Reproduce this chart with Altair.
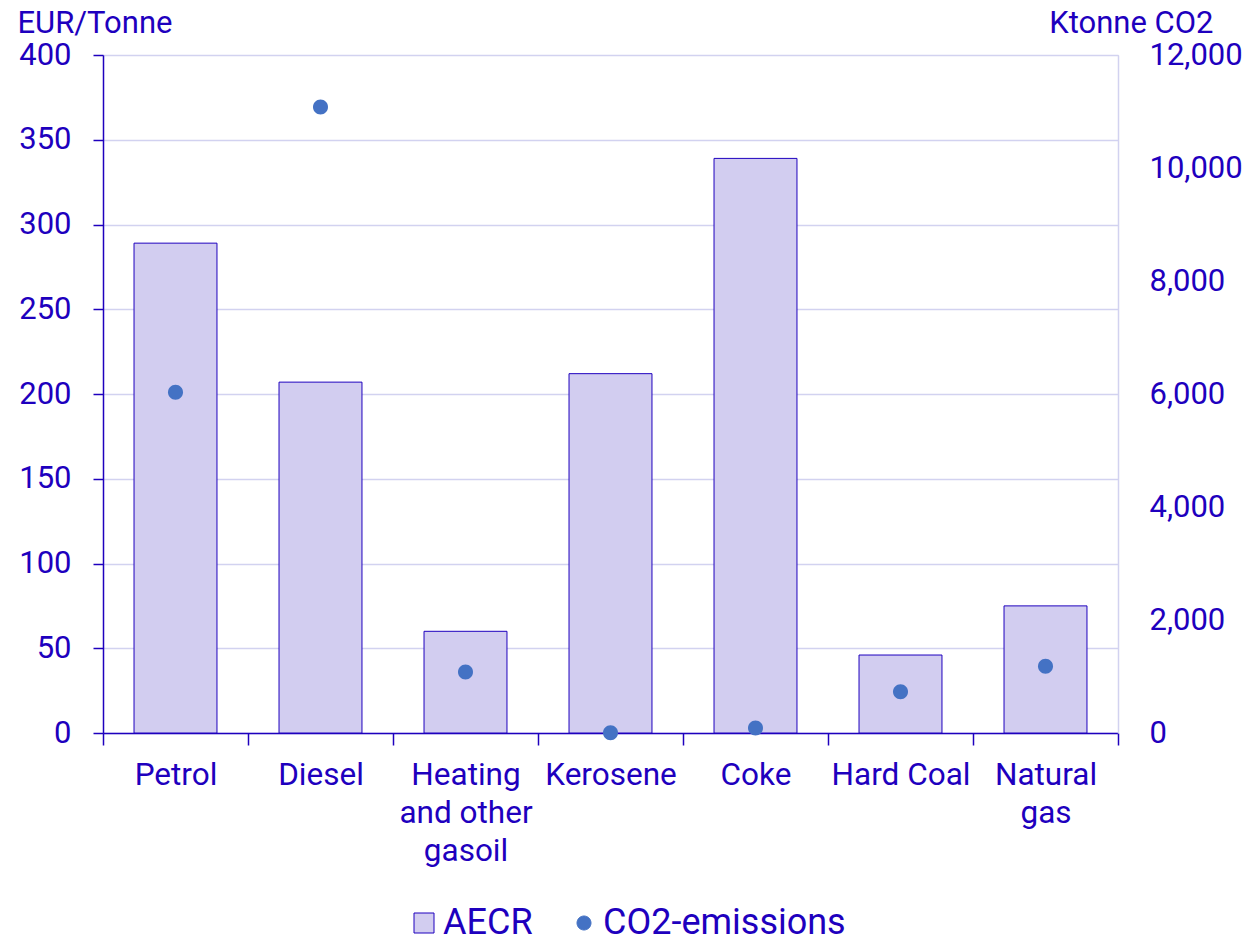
import altair as alt
import pandas as pd

categories = ["Petrol", "Diesel", "Heating and other gasoil", "Kerosene", "Coke", "Hard Coal", "Natural gas"]
aecr = [289, 207, 60, 212, 339, 46, 75]
co2 = [6030, 11080, 1080, 5, 90, 730, 1180]
series_names = ["AECR", "CO2-emissions"]

TXT = "#1E00BE"
BAR = "#D2CDF0"
DOT = "#4472C4"
GRID = "#D2D2F0"
FONT = "Roboto"

df = pd.DataFrame({"cat": categories, "aecr": aecr, "co2": co2})

circle_path = "M -0.7 0 A 0.7 0.7 0 1 1 0.7 0 A 0.7 0.7 0 1 1 -0.7 0 Z"

legend = alt.Legend(
    title=None, orient="none", legendX=303, legendY=850, direction="horizontal",
    labelFont=FONT, labelFontSize=36, labelColor=TXT, symbolSize=400, labelLimit=500,
    symbolStrokeWidth=1, labelOffset=1, columnPadding=33,
)
color_scale = alt.Scale(domain=series_names, range=[BAR, DOT])
stroke_scale = alt.Scale(domain=series_names, range=[TXT, DOT])
shape_scale = alt.Scale(domain=series_names, range=["square", circle_path])

label_expr = ("datum.value == 'Heating and other gasoil' ? ['Heating', 'and other', 'gasoil'] : "
              "datum.value == 'Natural gas' ? ['Natural', 'gas'] : datum.value")

x = alt.X("cat:N", sort=categories, title=None,
          scale=alt.Scale(paddingInner=0, paddingOuter=0),
          axis=alt.Axis(labelAngle=0, labelExpr=label_expr, labelFont=FONT, labelFontSize=31.5,
                        labelColor=TXT, labelLineHeight=38, labelPadding=14, labelBaseline="top",
                        tickBand="extent", tickSize=12, tickColor=TXT, tickWidth=1.5,
                        domainColor=TXT, domainWidth=1.5,
                        grid=False, labelLimit=300))

base = alt.Chart(df)

bars = base.transform_calculate(series="'AECR'").mark_bar(
    strokeWidth=1, width=alt.RelativeBandSize(0.572)).encode(
    x=x,
    y=alt.Y("aecr:Q", scale=alt.Scale(domain=[0, 400]),
            axis=alt.Axis(title="EUR/Tonne", titleAngle=0, titleAlign="left", titleBaseline="alphabetic",
                          titleX=-86, titleY=-23, titleFont=FONT, titleFontSize=31, titleFontWeight="normal",
                          titleColor=TXT, labelFont=FONT, labelFontSize=31, labelColor=TXT,
                          values=list(range(0, 401, 50)), tickSize=10, tickColor=TXT, tickWidth=1.5,
                          domainColor=TXT, domainWidth=1.5, labelPadding=22, grid=True, gridColor=GRID,
                          gridWidth=1.5)),
    color=alt.Color("series:N", scale=color_scale, legend=legend),
    stroke=alt.Stroke("series:N", scale=stroke_scale, legend=legend),
)

points = base.transform_calculate(series="'CO2-emissions'").mark_point(
    filled=True, opacity=1, size=460, strokeWidth=0).encode(
    x=x,
    y=alt.Y("co2:Q", scale=alt.Scale(domain=[0, 12000]),
            axis=alt.Axis(title="Ktonne CO2", orient="right", titleAngle=0, titleAlign="right",
                          titleBaseline="alphabetic", titleX=95, titleY=-23, titleFont=FONT,
                          titleFontSize=31, titleFontWeight="normal", titleColor=TXT,
                          labelFont=FONT, labelFontSize=31, labelColor=TXT, format=",.0f",
                          values=list(range(0, 12001, 2000)), ticks=False, labelPadding=31,
                          domainColor=GRID, domainWidth=1.5, grid=False, labelAlign="left")),
    color=alt.Color("series:N", scale=color_scale, legend=legend),
    stroke=alt.Stroke("series:N", scale=stroke_scale, legend=legend),
    shape=alt.Shape("series:N", scale=shape_scale, legend=legend),
)

chart = alt.layer(bars, points).resolve_scale(y="independent").properties(
    width=1015, height=678,
    autosize=alt.AutoSizeParams(type="none"),
    padding={"left": 95, "top": 47, "right": 124, "bottom": 210},
).configure_view(stroke=None).configure(background="white")

chart.save("out.html", embed_options={"renderer": "svg", "actions": False})
